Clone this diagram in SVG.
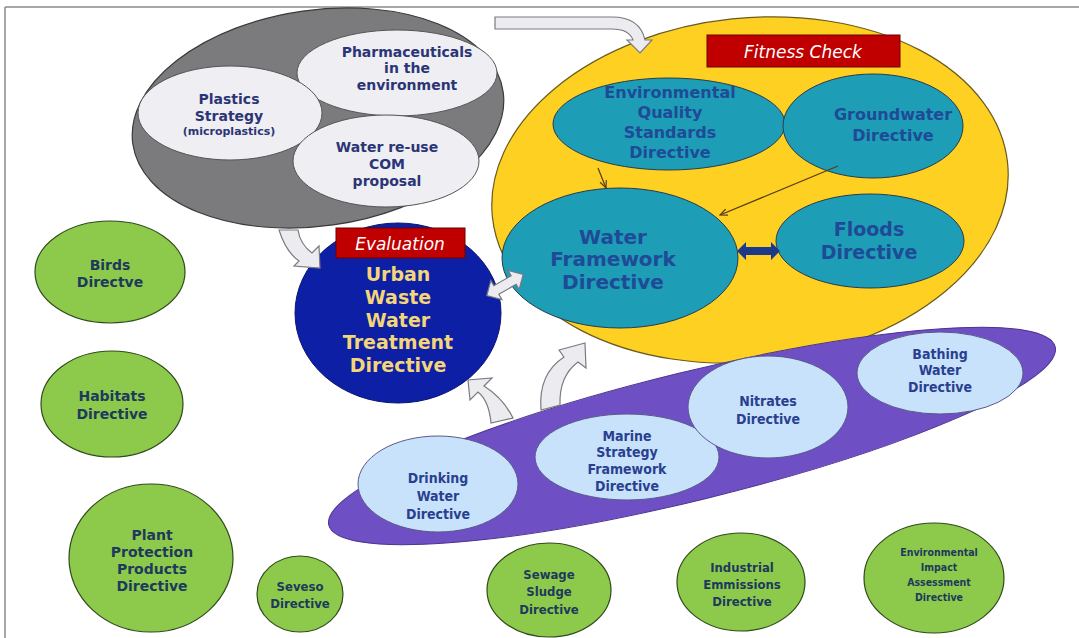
<svg xmlns="http://www.w3.org/2000/svg" width="1079" height="638" viewBox="0 0 1079 638">
<style>
.b{font-family:"DejaVu Sans",Verdana,sans-serif;font-weight:bold;text-anchor:middle}
.c{font-family:"DejaVu Sans Condensed","DejaVu Sans",sans-serif;font-weight:bold;text-anchor:middle}
.it{font-family:"DejaVu Sans",sans-serif;font-style:italic;fill:#fff;text-anchor:middle}
.grey{fill:#eeeef3;stroke:#555;stroke-width:1}
.teal{fill:#1d9db6;stroke:#2a3b4a;stroke-width:1}
.lb{fill:#c7e2fa;stroke:#5a5a8a;stroke-width:1}
.gr{fill:#8dc94b;stroke:#2f4a1a;stroke-width:1.2}
.ha{fill:#ececf0;stroke:#7a7a80;stroke-width:1.2}
.tg{fill:#2b3576}
.tt{fill:#1f4a96}
.tl{fill:#2a3f8f}
.tgr{fill:#1d3a5c}
.ty{fill:#f3d57a}
</style>
<defs>
<marker id="ah" viewBox="0 0 10 10" refX="9" refY="5" markerWidth="7" markerHeight="7" orient="auto"><path d="M0,1 L9,5 L0,9" fill="none" stroke="#5a3a1a" stroke-width="1.4"/></marker>
</defs>
<rect width="1079" height="638" fill="#fff"/>
<path d="M5,7 H1079 M5,7 V638" stroke="#8a8a8a" stroke-width="1.5" fill="none"/>

<g id="plastics-group">
<ellipse cx="318" cy="118" rx="187" ry="108" transform="rotate(-8 318 118)" fill="#7b7b7d" stroke="#3a3a3a" stroke-width="1.2"/>
</g>
<g id="fitness-group">
<ellipse cx="750" cy="190" rx="259" ry="172" transform="rotate(-6 750 190)" fill="#fdd022" stroke="#6a5a20" stroke-width="1.2"/>
<rect x="707" y="35" width="193" height="32" fill="#c00000" stroke="#6a0000"/>
<text class="it" x="803" y="58" font-size="17">Fitness Check</text>
</g>
<g id="marine-group">
<ellipse cx="692" cy="436" rx="374" ry="64" transform="rotate(-13.8 692 436)" fill="#6e4fc4" stroke="#4a3590" stroke-width="1"/>
</g>

<g id="pharmaceuticals">
<ellipse class="grey" cx="397" cy="73" rx="100" ry="43"/>
<text class="b tg" font-size="14"><tspan x="407" y="57">Pharmaceuticals</tspan><tspan x="407" y="73">in the</tspan><tspan x="407" y="90">environment</tspan></text>
</g>
<g id="plastics">
<ellipse class="grey" cx="230" cy="113" rx="92" ry="47"/>
<text class="b tg" font-size="14"><tspan x="229" y="104">Plastics</tspan><tspan x="229" y="121">Strategy</tspan></text>
<text class="b tg" font-size="11" x="229" y="135">(microplastics)</text>
</g>
<g id="water-reuse">
<ellipse class="grey" cx="386" cy="161" rx="93" ry="46"/>
<text class="b tg" font-size="14"><tspan x="387" y="152">Water re-use</tspan><tspan x="387" y="169">COM</tspan><tspan x="387" y="186">proposal</tspan></text>
</g>

<g id="eqs">
<ellipse class="teal" cx="669" cy="124" rx="116" ry="46"/>
<text class="b tt" font-size="16"><tspan x="670" y="98">Environmental</tspan><tspan x="670" y="118">Quality</tspan><tspan x="670" y="138">Standards</tspan><tspan x="670" y="158">Directive</tspan></text>
</g>
<g id="groundwater">
<ellipse class="teal" cx="873" cy="126" rx="90" ry="52"/>
<text class="b tt" font-size="16"><tspan x="893" y="120">Groundwater</tspan><tspan x="893" y="141">Directive</tspan></text>
</g>
<g id="wfd">
<ellipse class="teal" cx="620" cy="258" rx="118" ry="70"/>
<text class="b tt" font-size="20"><tspan x="613" y="244">Water</tspan><tspan x="613" y="266">Framework</tspan><tspan x="613" y="289">Directive</tspan></text>
</g>
<g id="floods">
<ellipse class="teal" cx="870" cy="241" rx="94" ry="47"/>
<text class="b tt" font-size="19"><tspan x="869" y="236">Floods</tspan><tspan x="869" y="259">Directive</tspan></text>
</g>

<g id="uwwtd">
<ellipse cx="398" cy="313" rx="103" ry="90" fill="#0c1fa5" stroke="#0a1470"/>
<rect x="336" y="228" width="129" height="30" fill="#c00000" stroke="#6a0000"/>
<text class="it" x="400" y="250" font-size="17">Evaluation</text>
<text class="b ty" font-size="19"><tspan x="398" y="281">Urban</tspan><tspan x="398" y="304">Waste</tspan><tspan x="398" y="327">Water</tspan><tspan x="398" y="349">Treatment</tspan><tspan x="398" y="372">Directive</tspan></text>
</g>

<g id="drinking">
<ellipse class="lb" cx="438" cy="484" rx="80" ry="48"/>
<text class="c tl" font-size="14"><tspan x="438" y="483">Drinking</tspan><tspan x="438" y="501">Water</tspan><tspan x="438" y="519">Directive</tspan></text>
</g>
<g id="msfd">
<ellipse class="lb" cx="627" cy="457" rx="92" ry="43"/>
<text class="c tl" font-size="14"><tspan x="627" y="441">Marine</tspan><tspan x="627" y="457">Strategy</tspan><tspan x="627" y="474">Framework</tspan><tspan x="627" y="491">Directive</tspan></text>
</g>
<g id="nitrates">
<ellipse class="lb" cx="768" cy="407" rx="80" ry="51"/>
<text class="c tl" font-size="14"><tspan x="768" y="406">Nitrates</tspan><tspan x="768" y="424">Directive</tspan></text>
</g>
<g id="bathing">
<ellipse class="lb" cx="940" cy="373" rx="83" ry="41"/>
<text class="c tl" font-size="14"><tspan x="940" y="359">Bathing</tspan><tspan x="940" y="375">Water</tspan><tspan x="940" y="392">Directive</tspan></text>
</g>

<g id="birds">
<ellipse class="gr" cx="110" cy="272" rx="75" ry="51"/>
<text class="b tgr" font-size="14"><tspan x="110" y="270">Birds</tspan><tspan x="110" y="287">Directve</tspan></text>
</g>
<g id="habitats">
<ellipse class="gr" cx="112" cy="404" rx="71" ry="53"/>
<text class="b tgr" font-size="14"><tspan x="112" y="401">Habitats</tspan><tspan x="112" y="419">Directive</tspan></text>
</g>
<g id="plant">
<ellipse class="gr" cx="151" cy="558" rx="82" ry="74"/>
<text class="b tgr" font-size="14"><tspan x="152" y="540">Plant</tspan><tspan x="152" y="557">Protection</tspan><tspan x="152" y="574">Products</tspan><tspan x="152" y="591">Directive</tspan></text>
</g>
<g id="seveso">
<ellipse class="gr" cx="300" cy="594" rx="43" ry="38"/>
<text class="c tgr" font-size="13"><tspan x="300" y="591">Seveso</tspan><tspan x="300" y="608">Directive</tspan></text>
</g>
<g id="sewage">
<ellipse class="gr" cx="549" cy="590" rx="62" ry="47"/>
<text class="c tgr" font-size="13"><tspan x="549" y="579">Sewage</tspan><tspan x="549" y="596">Sludge</tspan><tspan x="549" y="614">Directive</tspan></text>
</g>
<g id="industrial">
<ellipse class="gr" cx="741" cy="582" rx="64" ry="49"/>
<text class="c tgr" font-size="13"><tspan x="742" y="572">Industrial</tspan><tspan x="742" y="589">Emmissions</tspan><tspan x="742" y="606">Directive</tspan></text>
</g>
<g id="eia">
<ellipse class="gr" cx="934" cy="578" rx="70" ry="55"/>
<text class="c tgr" font-size="10.5"><tspan x="939" y="556">Environmental</tspan><tspan x="939" y="571">Impact</tspan><tspan x="939" y="586">Assessment</tspan><tspan x="939" y="601">Directive</tspan></text>
</g>

<g id="connectors">
<path class="ha" d="M495,17 H612 Q640,17 645,40 L652,40 L640,53 L627,40 L633,40 Q629,29 612,29 H495 Z"/>
<path class="ha" d="M279,230 Q286,252 299,261 L294,266 L320,268 L319,246 L312,253 Q300,244 298,230 Z"/>
<path class="ha" d="M-21,0 L-10,-11 L-10,-5 L10,-5 L10,-11 L21,0 L10,11 L10,5 L-10,5 L-10,11 Z" transform="translate(505 285) rotate(-30)"/>
<path class="ha" d="M491,423 Q489,401 478,392 L470,400 L468,380 L492,378 L484,386 Q503,398 513,418 Z"/>
<path class="ha" d="M541,410 Q538,374 564,357 L559,350 L585,343 L586,368 L578,362 Q559,376 560,405 Z"/>
<path d="M598,168 L606,188" stroke="#5a3a1a" stroke-width="1.2" fill="none" marker-end="url(#ah)"/>
<path d="M838,166 L720,215" stroke="#5a3a1a" stroke-width="1.2" fill="none" marker-end="url(#ah)"/>
<path d="M737,251 L746,242 L746,247 L771,247 L771,242 L780,251 L771,260 L771,255 L746,255 L746,260 Z" fill="#1d3a8a"/>
</g>
</svg>
